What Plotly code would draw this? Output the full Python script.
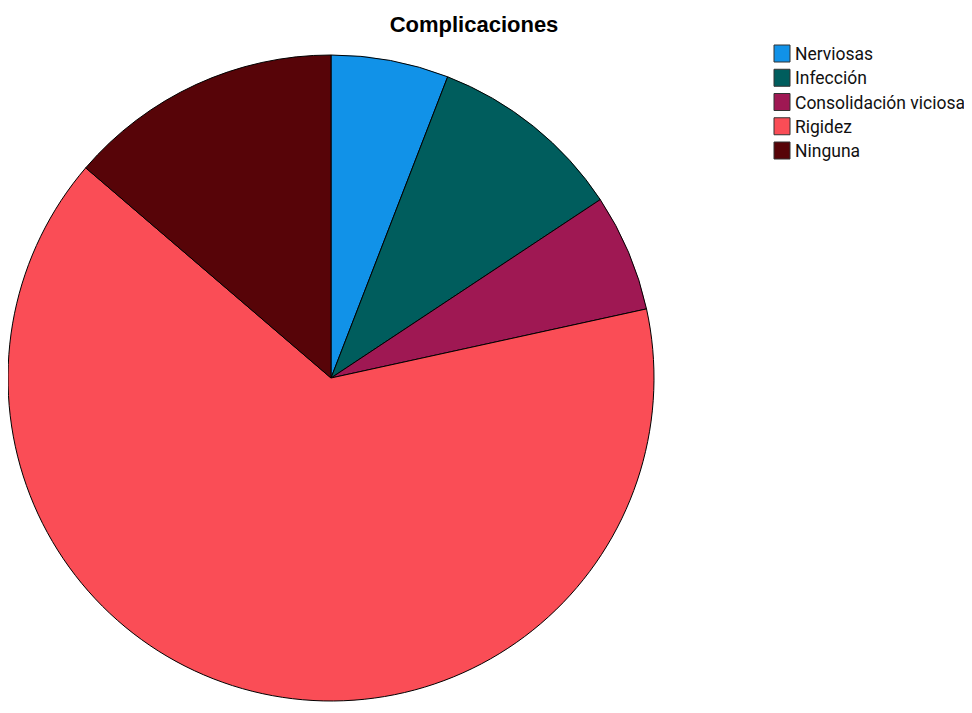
import plotly.graph_objects as go

categories = ["Nerviosas", "Infección", "Consolidación viciosa", "Rigidez", "Ninguna"]
values = [3, 5, 3, 33, 7]
colors = ["#1192E8", "#005D5D", "#9F1853", "#FA4D56", "#570408"]

W, H = 972, 713
OFF = 8  # browser body margin offset
# pie geometry in window pixels
cx, cy = 331 - OFF, 378 - OFF
rx, ry = 323, 334

fig = go.Figure(go.Pie(
    labels=categories,
    values=values,
    sort=False,
    direction="clockwise",
    rotation=0,
    textinfo="none",
    hoverinfo="label+value+percent",
    showlegend=False,
    marker=dict(colors=colors, line=dict(color="black", width=1)),
    domain=dict(x=[max(0, (cx - rx) / W), min(1, (cx + rx) / W)],
                y=[max(0, (H - cy - ry) / H), min(1, (H - cy + ry) / H)]),
))

# manual legend
leg_x0 = 774 - OFF
leg_y0 = 45 - OFF
sq_w, sq_h, step = 16, 17, 24.25
for i, (lab, col) in enumerate(zip(categories, colors)):
    top = leg_y0 + i * step
    fig.add_shape(type="rect", xref="paper", yref="paper",
                  x0=leg_x0 / W, x1=(leg_x0 + sq_w) / W,
                  y0=1 - (top + sq_h) / H, y1=1 - top / H,
                  fillcolor=col, line=dict(color="#333", width=1))
    fig.add_annotation(xref="paper", yref="paper",
                       x=(leg_x0 + sq_w + 3) / W, y=1 - (top + sq_h / 2 + 0.5) / H,
                       xanchor="left", yanchor="middle", showarrow=False,
                       text=lab, font=dict(size=17.5, family="Roboto, Arial, sans-serif", color="#111"))

fig.update_layout(
    width=W, height=H,
    margin=dict(l=0, r=0, t=0, b=0),
    paper_bgcolor="white",
    plot_bgcolor="white",
    font=dict(family="Roboto, Arial, sans-serif", color="black"),
    title=dict(text="<b>Complicaciones</b>", x=(474 - OFF) / W, xanchor="center",
               y=1 - (24 - OFF) / H, yanchor="middle",
               font=dict(size=22, family="Arial, Liberation Sans, sans-serif", color="black")),
)

fig.write_html("out.html")
